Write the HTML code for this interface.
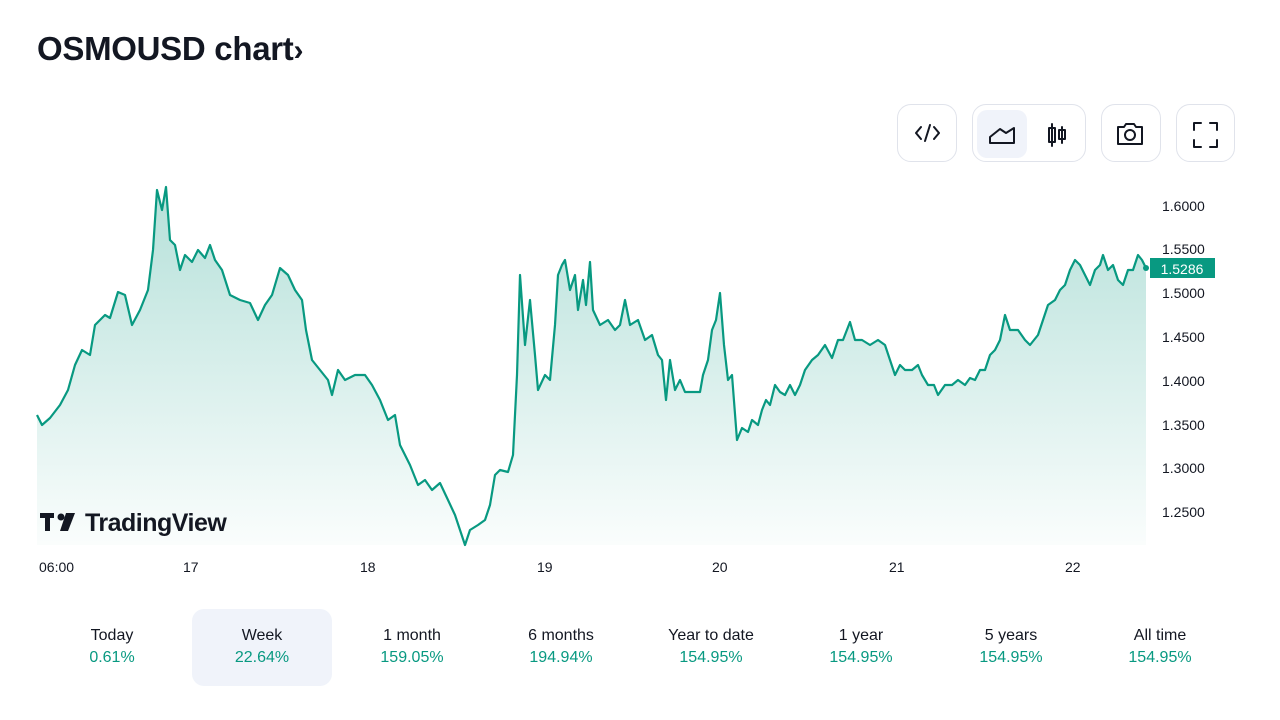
<!DOCTYPE html>
<html><head><meta charset="utf-8"><style>
body{margin:0;width:1280px;height:720px;background:#fff;font-family:"Liberation Sans","DejaVu Sans",sans-serif;overflow:hidden;position:relative;color:#131722}
.t{position:absolute;left:37px;top:30px;font-size:33px;font-weight:bold;letter-spacing:-0.3px}
.btn{position:absolute;top:104px;height:58px;border:1px solid #e0e3eb;border-radius:14px;box-sizing:border-box}
.tab{position:absolute;top:609px;width:140px;height:77px;text-align:center;border-radius:12px}
.tab .a{margin-top:18px;font-size:16px;color:#131722}
.tab .b{margin-top:4px;font-size:16px;color:#089981}
.ax{position:absolute;font-size:14px;color:#131722}
</style></head><body>
<div class="t">OSMOUSD chart<span style="font-size:30px">›</span></div>
<div class="btn" style="left:897px;width:60px"></div>
<div class="btn" style="left:972px;width:114px"><div style="position:absolute;left:4px;top:5px;width:50px;height:48px;background:#f0f3fa;border-radius:10px"></div></div>
<div class="btn" style="left:1101px;width:60px"></div>
<div class="btn" style="left:1176px;width:59px"></div>
<svg width="1280" height="720" style="position:absolute;left:0;top:0">
<g fill="none" stroke="#131722" stroke-width="2" stroke-linecap="round" stroke-linejoin="round">
<path d="M921 127l-5 6 5 6M934 127l5 6-5 6M930 125l-5 16"/>
<path d="M990 143h24v-15l-8 5-6-4-10 8z"/>
<path d="M1052 124v22M1062 127v16"/><rect x="1049" y="128" width="6" height="14"/><rect x="1059" y="130" width="6" height="9"/>
<path d="M1118 144h24v-17h-6l-2-3h-8l-2 3h-6z"/><circle cx="1130" cy="135" r="5"/>
<path d="M1194 130v-7h7M1210 123h7v7M1217 140v7h-7M1201 147h-7v-7"/>
</g>
<defs><linearGradient id="g" x1="0" y1="0" x2="0" y2="1"><stop offset="0" stop-color="#089981" stop-opacity="0.3"/><stop offset="1" stop-color="#089981" stop-opacity="0.02"/></linearGradient></defs>
<path id="ln" fill="url(#g)" d="M37 545 L37,415 42,425 50,418 60,405 68,390 75,365 82,350 90,355 95,325 105,315 110,318 118,292 125,295 132,325 140,310 148,290 153,250 157,190 162,210 166,187 170,240 175,245 180,270 185,255 192,262 198,250 205,258 210,245 215,260 222,270 230,295 240,300 250,303 258,320 265,305 272,295 280,268 288,275 295,290 302,300 306,330 312,360 320,370 328,380 332,395 338,370 345,380 355,375 365,375 372,385 380,400 388,420 395,415 400,445 405,455 410,465 418,485 425,480 432,490 440,483 448,500 455,515 460,530 465,545 470,530 478,525 485,520 490,505 495,475 500,470 508,472 513,455 517,375 520,275 525,345 530,300 535,355 538,390 545,375 550,380 555,325 558,275 562,265 565,260 570,290 575,275 578,310 583,280 586,305 590,262 593,310 600,325 608,320 615,330 620,325 625,300 630,325 638,320 645,340 652,335 658,355 662,360 666,400 670,360 675,390 680,380 685,392 690,392 700,392 703,375 708,360 712,330 716,320 720,293 724,345 728,380 732,375 737,440 742,428 748,432 752,420 758,425 762,410 766,400 770,405 775,385 780,392 785,395 790,385 795,395 800,385 805,370 812,360 818,355 825,345 832,358 838,340 843,340 850,322 855,340 862,340 870,345 878,340 885,345 890,360 895,375 900,365 905,370 912,370 918,365 922,375 928,385 934,385 938,395 945,385 952,385 958,380 965,385 970,378 975,380 980,370 985,370 990,355 995,350 1000,340 1005,315 1010,330 1018,330 1025,340 1030,345 1038,335 1043,320 1048,305 1055,300 1060,290 1065,285 1070,270 1075,260 1080,265 1085,275 1090,285 1095,270 1100,265 1103,255 1108,270 1113,265 1118,280 1123,285 1128,270 1133,270 1138,255 1142,260 1146,268 L1146 545Z"/>
<polyline fill="none" stroke="#089981" stroke-width="2.2" stroke-linejoin="round" points="37,415 42,425 50,418 60,405 68,390 75,365 82,350 90,355 95,325 105,315 110,318 118,292 125,295 132,325 140,310 148,290 153,250 157,190 162,210 166,187 170,240 175,245 180,270 185,255 192,262 198,250 205,258 210,245 215,260 222,270 230,295 240,300 250,303 258,320 265,305 272,295 280,268 288,275 295,290 302,300 306,330 312,360 320,370 328,380 332,395 338,370 345,380 355,375 365,375 372,385 380,400 388,420 395,415 400,445 405,455 410,465 418,485 425,480 432,490 440,483 448,500 455,515 460,530 465,545 470,530 478,525 485,520 490,505 495,475 500,470 508,472 513,455 517,375 520,275 525,345 530,300 535,355 538,390 545,375 550,380 555,325 558,275 562,265 565,260 570,290 575,275 578,310 583,280 586,305 590,262 593,310 600,325 608,320 615,330 620,325 625,300 630,325 638,320 645,340 652,335 658,355 662,360 666,400 670,360 675,390 680,380 685,392 690,392 700,392 703,375 708,360 712,330 716,320 720,293 724,345 728,380 732,375 737,440 742,428 748,432 752,420 758,425 762,410 766,400 770,405 775,385 780,392 785,395 790,385 795,395 800,385 805,370 812,360 818,355 825,345 832,358 838,340 843,340 850,322 855,340 862,340 870,345 878,340 885,345 890,360 895,375 900,365 905,370 912,370 918,365 922,375 928,385 934,385 938,395 945,385 952,385 958,380 965,385 970,378 975,380 980,370 985,370 990,355 995,350 1000,340 1005,315 1010,330 1018,330 1025,340 1030,345 1038,335 1043,320 1048,305 1055,300 1060,290 1065,285 1070,270 1075,260 1080,265 1085,275 1090,285 1095,270 1100,265 1103,255 1108,270 1113,265 1118,280 1123,285 1128,270 1133,270 1138,255 1142,260 1146,268"/>
<circle cx="1146" cy="268" r="3" fill="#089981"/>
<rect x="1150" y="258" width="65" height="20" fill="#089981"/>
<text x="1182" y="274" fill="#fff" font-size="14" text-anchor="middle" font-family="Liberation Sans, sans-serif">1.5286</text>
<g fill="#131722"><rect x="40" y="513" width="14" height="5"/><rect x="45" y="513" width="5" height="18"/><circle cx="61" cy="517" r="3.5"/><path d="M66 513h9l-7 18h-8z"/></g>
<text x="85" y="531" font-size="25" font-weight="bold" fill="#131722" font-family="Liberation Sans, sans-serif" letter-spacing="-0.5">TradingView</text>
</svg>
<div class="ax" style="left:1162px;top:198px">1.6000</div>
<div class="ax" style="left:1162px;top:241px">1.5500</div>
<div class="ax" style="left:1162px;top:285px">1.5000</div>
<div class="ax" style="left:1162px;top:329px">1.4500</div>
<div class="ax" style="left:1162px;top:373px">1.4000</div>
<div class="ax" style="left:1162px;top:417px">1.3500</div>
<div class="ax" style="left:1162px;top:460px">1.3000</div>
<div class="ax" style="left:1162px;top:504px">1.2500</div>
<div class="ax" style="left:39px;top:559px">06:00</div>
<div class="ax" style="left:183px;top:559px">17</div>
<div class="ax" style="left:360px;top:559px">18</div>
<div class="ax" style="left:537px;top:559px">19</div>
<div class="ax" style="left:712px;top:559px">20</div>
<div class="ax" style="left:889px;top:559px">21</div>
<div class="ax" style="left:1065px;top:559px">22</div>
<div class="tab" style="left:42px"><div class="a">Today</div><div class="b">0.61%</div></div>
<div class="tab" style="left:192px;background:#f0f3fa"><div class="a">Week</div><div class="b">22.64%</div></div>
<div class="tab" style="left:342px"><div class="a">1 month</div><div class="b">159.05%</div></div>
<div class="tab" style="left:491px"><div class="a">6 months</div><div class="b">194.94%</div></div>
<div class="tab" style="left:641px"><div class="a">Year to date</div><div class="b">154.95%</div></div>
<div class="tab" style="left:791px"><div class="a">1 year</div><div class="b">154.95%</div></div>
<div class="tab" style="left:941px"><div class="a">5 years</div><div class="b">154.95%</div></div>
<div class="tab" style="left:1090px"><div class="a">All time</div><div class="b">154.95%</div></div>
</body></html>
